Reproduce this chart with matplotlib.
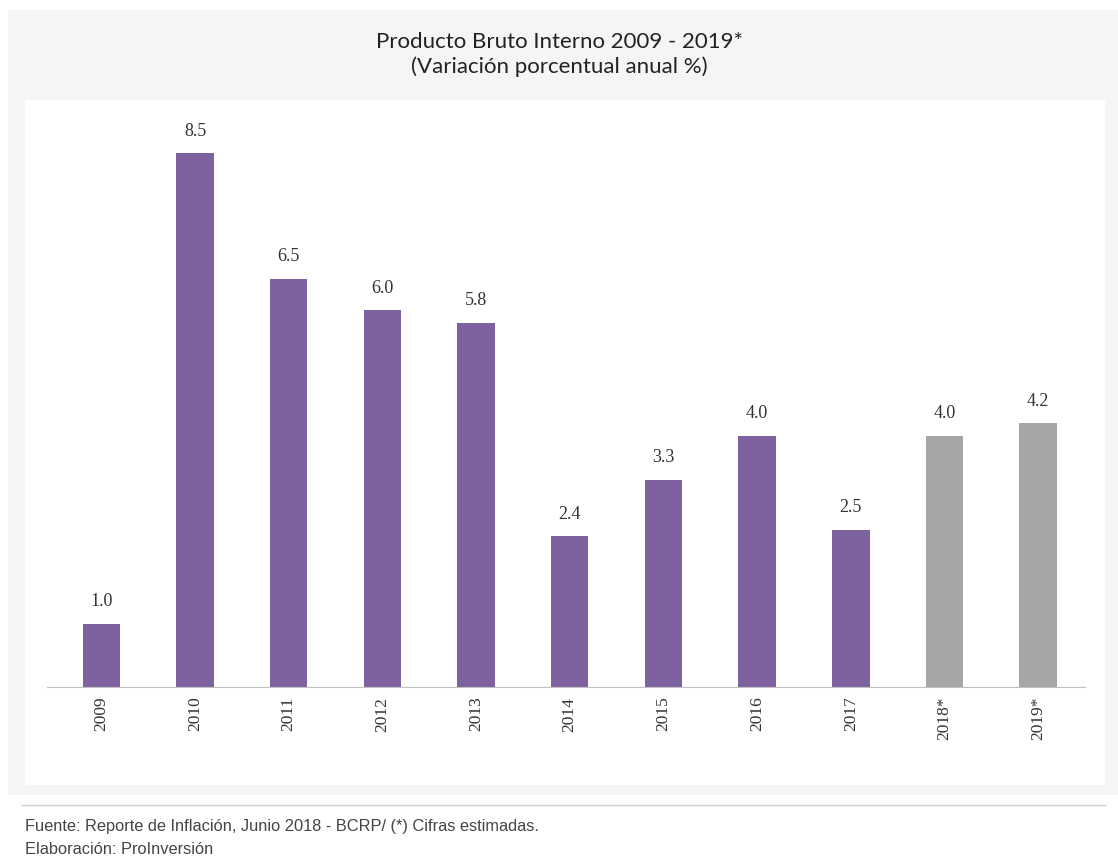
import matplotlib.pyplot as plt
from matplotlib.patches import Rectangle
from matplotlib.lines import Line2D

years = ['2009', '2010', '2011', '2012', '2013', '2014', '2015', '2016', '2017', '2018*', '2019*']
growth = [1.0, 8.5, 6.5, 6.0, 5.8, 2.4, 3.3, 4.0, 2.5, 4.0, 4.2]
estimated = [False] * 9 + [True, True]

PURPLE = '#7e62a0'
GREY = '#a6a6a6'
W, H = 1118, 859


def fx(px):
    return px / W


def fy(py):
    return 1 - py / H


def main():
    fig = plt.figure(figsize=(W / 100, H / 100), dpi=100)
    fig.patch.set_facecolor('white')

    # page panels
    fig.patches.append(Rectangle((fx(8), fy(795)), fx(1110), 785 / H, transform=fig.transFigure,
                                 facecolor='#f5f5f5', edgecolor='none', zorder=-2))
    fig.patches.append(Rectangle((fx(25), fy(785)), fx(1080), 685 / H, transform=fig.transFigure,
                                 facecolor='white', edgecolor='none', zorder=-1))
    fig.lines.append(Line2D([fx(22), fx(1105)], [fy(805), fy(805)], transform=fig.transFigure,
                            color='#cfcfcf', linewidth=1))

    ax = fig.add_axes([fx(47), fy(687), fx(1085 - 47), (687 - 100) / H])
    ax.set_zorder(2)
    ax.patch.set_alpha(0)

    colors = [GREY if e else PURPLE for e in estimated]
    x = range(len(years))
    ax.bar(x, growth, width=0.4, color=colors, edgecolor='none')
    for i, v in zip(x, growth):
        ax.text(i, v + 0.22, f'{v:.1f}', ha='center', va='bottom',
                family='Liberation Serif', fontsize=13, color='#333333')

    ax.set_xlim(-0.58, 10.5)
    ax.set_ylim(0, 9.35)
    ax.set_xticks(list(x))
    ax.set_xticklabels(years, rotation=90, family='Liberation Serif', fontsize=12.5, color='#333333')
    ax.tick_params(axis='x', length=0, pad=7)
    ax.set_yticks([])
    for s in ['top', 'right', 'left']:
        ax.spines[s].set_visible(False)
    ax.spines['bottom'].set_color('#c0c0c0')

    fig.text(0.5, fy(42), 'Producto Bruto Interno 2009 - 2019*', ha='center', va='center',
             family='Lato', fontsize=16, color='#222222')
    fig.text(0.5, fy(67), '(Variación porcentual anual %)', ha='center', va='center',
             family='Lato', fontsize=16, color='#222222')

    fig.text(fx(25), fy(826), 'Fuente: Reporte de Inflación, Junio 2018 - BCRP/ (*) Cifras estimadas.',
             ha='left', va='center', family='Liberation Sans', fontsize=11.8, color='#444444')
    fig.text(fx(25), fy(849), 'Elaboración: ProInversión',
             ha='left', va='center', family='Liberation Sans', fontsize=11.8, color='#444444')

    fig.savefig('out.png', dpi=100, facecolor=fig.get_facecolor())


if __name__ == "__main__":
    main()
